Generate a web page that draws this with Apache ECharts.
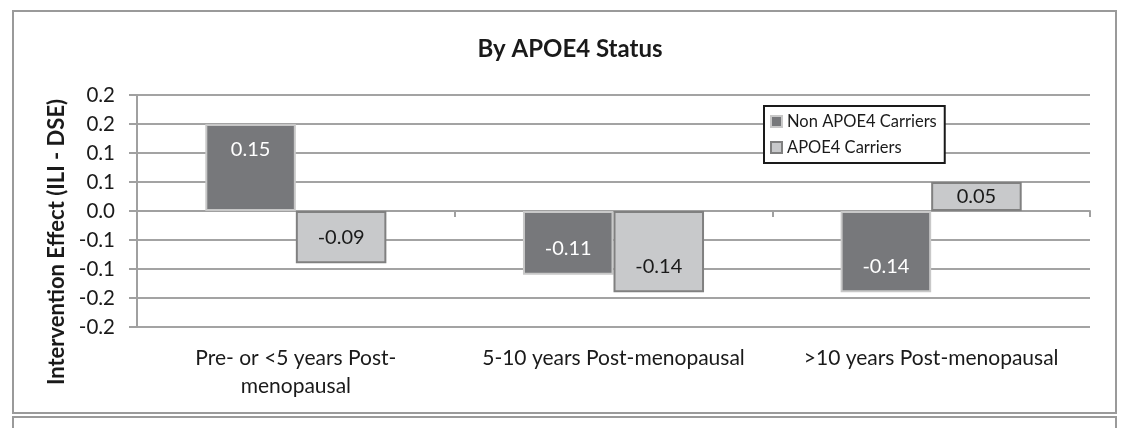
<!DOCTYPE html>
<html>
<head>
<meta charset="utf-8">
<script src="https://cdn.jsdelivr.net/npm/echarts@6/dist/echarts.min.js"></script>
<style>
html,body{margin:0;padding:0;background:#fff;}
#chart{width:1144px;height:428px;}
</style>
</head>
<body>
<div id="chart"></div>
<script>
var categories = ['Pre- or <5 years Post-\nmenopausal', '5-10 years Post-menopausal', '>10 years Post-menopausal'];
var seriesNames = ['Non APOE4 Carriers', 'APOE4 Carriers'];
var nonCarriers = [0.15, -0.11, -0.14];
var carriers = [-0.09, -0.14, 0.05];
var yTickLabels = ['-0.2', '-0.2', '-0.1', '-0.1', '0.0', '0.1', '0.1', '0.2', '0.2'];
var titleText = 'By APOE4 Status';
var yAxisName = 'Intervention Effect (ILI - DSE)';

var FONT = 'Lato, "Open Sans", sans-serif';
var chart = echarts.init(document.getElementById('chart'), null, {renderer: 'canvas'});
var grid = {left: 137, right: 54, top: 95, bottom: 101};

function barData(values) {
  return values.map(function (v) {
    var pos = Math.abs(v) < 0.08 ? 'inside' : (v >= 0 ? 'insideTop' : 'insideBottom');
    return {value: v, label: {position: pos}};
  });
}

chart.setOption({
  animation: false,
  backgroundColor: '#fff',
  textStyle: {fontFamily: FONT},
  title: {
    text: titleText,
    left: 565,
    textAlign: 'center',
    top: 32,
    textStyle: {fontSize: 24, fontWeight: 'bold', color: '#1a1a1a', fontFamily: FONT}
  },
  graphic: [
    {type: 'rect', shape: {x: 13, y: 11, width: 1103, height: 402}, style: {fill: 'none', stroke: '#9a9a9a', lineWidth: 2}, z: -1},
    {type: 'rect', shape: {x: 13, y: 417, width: 1103, height: 20}, style: {fill: 'none', stroke: '#9a9a9a', lineWidth: 2}, z: -1}
  ],
  legend: {
    orient: 'vertical',
    left: 764,
    top: 106,
    padding: [7, 8, 7, 6],
    itemGap: 9,
    itemWidth: 11,
    itemHeight: 11,
    icon: 'rect',
    borderColor: '#1a1a1a',
    borderWidth: 2,
    backgroundColor: '#fff',
    textStyle: {fontSize: 16.5, color: '#1a1a1a', fontFamily: FONT},
    data: seriesNames
  },
  grid: grid,
  xAxis: [
    {
      type: 'category',
      data: categories,
      axisLine: {onZero: true, lineStyle: {color: '#a0a0a0', width: 2}},
      axisTick: {show: true, length: 6, lineStyle: {color: '#a0a0a0', width: 2}},
      axisLabel: {show: false},
      splitLine: {show: false}
    },
    {
      type: 'category',
      data: categories,
      position: 'bottom',
      axisLine: {show: false, onZero: false},
      axisTick: {show: false},
      axisLabel: {show: true, margin: 17, fontSize: 21, lineHeight: 28, color: '#1a1a1a', fontFamily: FONT, interval: 0},
      splitLine: {show: false}
    }
  ],
  yAxis: {
    type: 'value',
    min: -0.2,
    max: 0.2,
    interval: 0.05,
    name: yAxisName,
    nameLocation: 'middle',
    nameRotate: 90,
    nameGap: 67,
    nameTextStyle: {fontSize: 22, fontWeight: 'bold', color: '#1a1a1a', fontFamily: FONT, padding: [0, 62, 0, 0]},
    axisLine: {show: true, lineStyle: {color: '#a0a0a0', width: 2}},
    axisTick: {show: true, length: 8, lineStyle: {color: '#a0a0a0', width: 2}},
    axisLabel: {
      fontSize: 20.5, color: '#1a1a1a', margin: 22, fontFamily: FONT,
      formatter: function (v, i) { return yTickLabels[i]; }
    },
    splitLine: {show: true, lineStyle: {color: '#a3a3a3', width: 2}}
  },
  series: [
    {
      name: seriesNames[0],
      type: 'bar',
      xAxisIndex: 0,
      data: barData(nonCarriers),
      barGap: '0%',
      barCategoryGap: '43%',
      itemStyle: {color: '#77787b', borderColor: '#c8c8c8', borderWidth: 2},
      label: {show: true, distance: 16, fontSize: 20, color: '#ffffff', fontFamily: FONT,
        formatter: function (p) { return p.value.toFixed(2); }}
    },
    {
      name: seriesNames[1],
      type: 'bar',
      xAxisIndex: 0,
      data: barData(carriers),
      barGap: '0%',
      barCategoryGap: '43%',
      itemStyle: {color: '#c8c9cb', borderColor: '#808080', borderWidth: 2},
      label: {show: true, distance: 16, fontSize: 20, color: '#1a1a1a', fontFamily: FONT,
        formatter: function (p) { return p.value.toFixed(2); }}
    }
  ]
});
</script>
</body>
</html>
